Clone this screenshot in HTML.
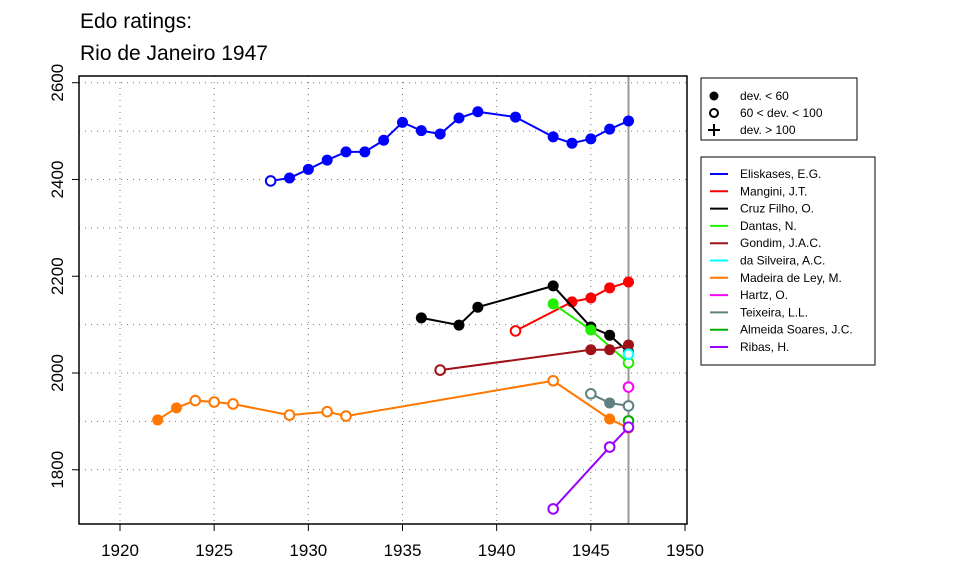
<!DOCTYPE html>
<html><head><meta charset="utf-8"><style>
body{margin:0;background:#fff;font-family:"Liberation Sans",sans-serif}
svg text{font-family:"Liberation Sans",sans-serif}
</style></head><body>
<svg id="c" width="960" height="576">
<text x="80" y="28" font-size="21">Edo ratings:</text>
<text x="80" y="60" font-size="21">Rio de Janeiro 1947</text>
<g id="grid"></g>
<g id="axes"></g>
<g id="series"></g>
<g id="legend"></g>
</svg>
<script>
const xTicks=[1920,1925,1930,1935,1940,1945,1950];
const yTicks=[1800,2000,2200,2400,2600];
const names=["Eliskases, E.G.","Mangini, J.T.","Cruz Filho, O.","Dantas, N.","Gondim, J.A.C.","da Silveira, A.C.","Madeira de Ley, M.","Hartz, O.","Teixeira, L.L.","Almeida Soares, J.C.","Ribas, H."];
const colors=["#0000ff","#ff0000","#000000","#22ee00","#a01018","#00ffff","#ff7700","#ff00ff","#5f7f80","#00aa00","#9900ff"];
const years=[
[1928,1929,1930,1931,1932,1933,1934,1935,1936,1937,1938,1939,1941,1943,1944,1945,1946,1947],
[1941,1944,1945,1946,1947],
[1936,1938,1939,1943,1945,1946,1947],
[1943,1945,1947],
[1937,1945,1946,1947],
[1947],
[1922,1923,1924,1925,1926,1929,1931,1932,1943,1946,1947],
[1947],
[1945,1946,1947],
[1947],
[1943,1946,1947]];
const ratings=[
[2397,2403,2421,2440,2457,2457,2481,2518,2501,2494,2527,2540,2529,2488,2475,2484,2504,2521],
[2087,2147,2155,2176,2188],
[2114,2099,2136,2180,2095,2078,2043],
[2143,2089,2021],
[2006,2048,2048,2058],
[2039],
[1903,1928,1943,1940,1936,1913,1920,1911,1984,1905,1886],
[1971],
[1957,1938,1932],
[1901],
[1719,1847,1888]];
const filled=[
[0,1,1,1,1,1,1,1,1,1,1,1,1,1,1,1,1,1],
[0,1,1,1,1],
[1,1,1,1,1,1,1],
[1,1,0],
[0,1,1,1],
[0],
[1,1,0,0,0,0,0,0,0,1,1],
[0],
[0,1,0],
[0],
[0,0,0]];
const X=v=>120+(v-1920)*(565/30);
const Y=v=>373-(v-2000)*0.4838;
const NS="http://www.w3.org/2000/svg";
function mk(t,a,p){const e=document.createElementNS(NS,t);for(const k in a)e.setAttribute(k,a[k]);p.appendChild(e);return e;}
const g=document.getElementById('grid'),ax=document.getElementById('axes'),s=document.getElementById('series'),lg=document.getElementById('legend');
const L=79,R=687,T=76,B=524;
for(const t of xTicks){if(X(t)<R-3){const l=mk('line',{x1:X(t),x2:X(t),y1:T,y2:B,stroke:'#777','stroke-dasharray':'1 5'},g);

}}
for(let v=1800;v<=2600;v+=100){const l=mk('line',{x1:L,x2:R,y1:Y(v),y2:Y(v),stroke:'#777','stroke-dasharray':'1 5'},g);

}
const vl=mk('line',{x1:X(1947),x2:X(1947),y1:T,y2:B,stroke:'#999','stroke-width':2},g);


const fr=mk('rect',{x:L,y:T,width:R-L,height:B-T,fill:'none',stroke:'#000','stroke-width':1.5},ax);


for(const t of xTicks){mk('line',{x1:X(t),x2:X(t),y1:B,y2:B+7,stroke:'#000'},ax);
const tx=mk('text',{x:X(t),y:B+32,'text-anchor':'middle','font-size':17},ax);tx.textContent=t;

}
for(const t of yTicks){mk('line',{x1:L-7,x2:L,y1:Y(t),y2:Y(t),stroke:'#000'},ax);
const tx=mk('text',{x:0,y:0,'text-anchor':'middle','font-size':17,transform:`translate(${L-16},${Y(t)}) rotate(-90)`},ax);tx.textContent=t;

}
names.forEach((n,i)=>{const gg=mk('g',{},s);


const pts=years[i].map((y,j)=>X(y)+','+Y(ratings[i][j])).join(' ');
mk('polyline',{points:pts,fill:'none',stroke:colors[i],'stroke-width':2},gg);
years[i].forEach((y,j)=>{const c=mk('circle',{cx:X(y),cy:Y(ratings[i][j]),r:filled[i][j]?5.5:4.8,fill:filled[i][j]?colors[i]:'#fff',stroke:colors[i],'stroke-width':filled[i][j]?0:2},gg);

});});
const b1=mk('rect',{x:701,y:78,width:156,height:62,fill:'#fff',stroke:'#000'},lg);


const sym=[["dev. < 60",1],["60 < dev. < 100",0],["dev. > 100",2]];
sym.forEach((d,i)=>{const y=96+i*17;
if(d[1]==1)mk('circle',{cx:714,cy:y,r:4.5,fill:'#000'},lg);
else if(d[1]==0)mk('circle',{cx:714,cy:y,r:4,fill:'none',stroke:'#000','stroke-width':2},lg);
else{mk('line',{x1:708,x2:720,y1:y,y2:y,stroke:'#000','stroke-width':2},lg);mk('line',{x1:714,x2:714,y1:y-6,y2:y+6,stroke:'#000','stroke-width':2},lg);}
const t=mk('text',{x:740,y:y+4,'font-size':12},lg);t.textContent=d[0];

});
const b2=mk('rect',{x:701,y:157,width:174,height:208,fill:'#fff',stroke:'#000'},lg);


names.forEach((n,i)=>{const y=174+i*17.3;
mk('line',{x1:710,x2:728,y1:y,y2:y,stroke:colors[i],'stroke-width':2},lg);
const t=mk('text',{x:740,y:y+4,'font-size':12},lg);t.textContent=n;

});
</script>
</body></html>
